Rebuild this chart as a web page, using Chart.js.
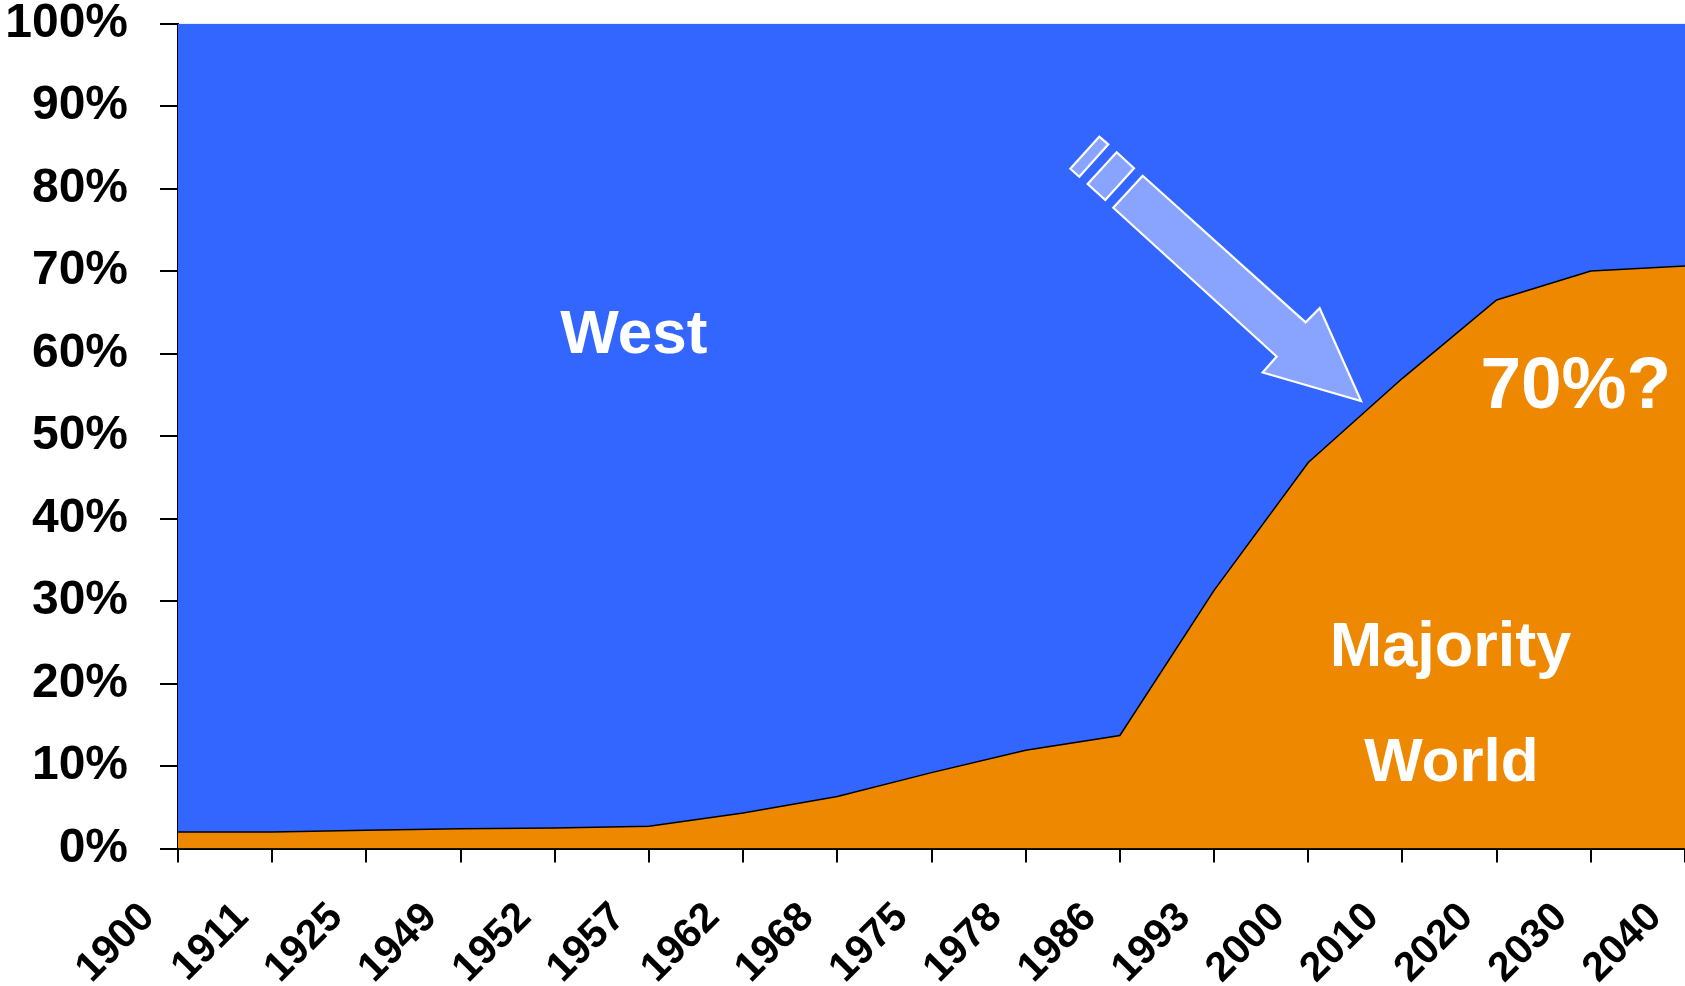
<!DOCTYPE html>
<html>
<head>
<meta charset="utf-8">
<script src="https://cdn.jsdelivr.net/npm/chart.js@4.4.1/dist/chart.umd.min.js"></script>
<style>
  html, body { margin: 0; padding: 0; background: #ffffff; }
  #wrap { position: relative; width: 1685px; height: 986px; }
</style>
</head>
<body>
<div id="wrap"><canvas id="c"></canvas></div>
<script>
// ---- Data ----
const years = ["1900","1911","1925","1949","1952","1957","1962","1968","1975","1978","1986","1993","2000","2010","2020","2030","2040"];
const majorityWorldShare = [2.0, 2.0, 2.2, 2.4, 2.5, 2.7, 4.3, 6.3, 9.2, 11.9, 13.7, 31.3, 46.8, 57.0, 66.5, 70.0, 70.6];
const westShare          = [98.0, 98.0, 97.8, 97.6, 97.5, 97.3, 95.7, 93.7, 90.8, 88.1, 86.3, 68.7, 53.2, 43.0, 33.5, 30.0, 29.4];
const yTickValues = [0, 10, 20, 30, 40, 50, 60, 70, 80, 90, 100];

// Annotation anchors in data units (category index, percent)
const textNotes = [
  { text: "West",     x: 4.84,  y: 60.1, size: 62 },
  { text: "70%?",     x: 14.84, y: 53.4, size: 73 },
  { text: "Majority", x: 13.51, y: 22.1, size: 63 },
  { text: "World",    x: 13.52, y: 8.2,  size: 62 }
];
const arrowBody = [[10.242,81.56],[11.972,63.78],[12.121,65.50],[12.561,54.25],[11.516,57.70],[11.665,59.64],[9.930,77.68]];
const arrowDash1 = [[9.781,86.29],[9.877,85.37],[9.569,81.44],[9.474,82.41]];
const arrowDash2 = [[9.966,84.40],[10.150,82.46],[9.845,78.62],[9.658,80.56]];

const FONT = "'Liberation Sans', Arial, sans-serif";

const notesPlugin = {
  id: 'notes',
  afterDatasetsDraw(chart) {
    const ctx = chart.ctx;
    const xs = chart.scales.x, ys = chart.scales.y;
    const px = p => [xs.getPixelForValue(p[0]), ys.getPixelForValue(p[1])];
    ctx.save();
    [arrowBody, arrowDash1, arrowDash2].forEach(poly => {
      ctx.beginPath();
      poly.forEach((p, i) => {
        const [X, Y] = px(p);
        if (i === 0) ctx.moveTo(X, Y); else ctx.lineTo(X, Y);
      });
      ctx.closePath();
      ctx.fillStyle = '#88A4FF';
      ctx.fill();
      ctx.lineWidth = 2.2;
      ctx.strokeStyle = '#ffffff';
      ctx.lineJoin = 'miter';
      ctx.stroke();
    });
    ctx.fillStyle = '#ffffff';
    ctx.textAlign = 'center';
    ctx.textBaseline = 'alphabetic';
    textNotes.forEach(n => {
      ctx.font = 'bold ' + n.size + 'px ' + FONT;
      const [X, Y] = px([n.x, n.y]);
      ctx.fillText(n.text, X, Y);
    });
    ctx.restore();
  }
};

new Chart(document.getElementById('c'), {
  type: 'line',
  data: {
    labels: years,
    datasets: [
      {
        label: 'Majority World',
        data: majorityWorldShare,
        fill: 'origin',
        backgroundColor: '#EE8800',
        borderColor: '#000000',
        borderWidth: 1.5,
        pointRadius: 0,
        tension: 0
      },
      {
        label: 'West',
        data: westShare,
        fill: '-1',
        backgroundColor: '#3366FF',
        borderColor: '#3366FF',
        borderWidth: 0,
        pointRadius: 0,
        tension: 0
      }
    ]
  },
  options: {
    responsive: true,
    maintainAspectRatio: false,
    animation: false,
    layout: { padding: { top: 23.6, right: 0, left: 0, bottom: 0 } },
    plugins: {
      legend: { display: false },
      tooltip: { enabled: false }
    },
    scales: {
      x: {
        type: 'category',
        offset: false,
        grid: { display: true, drawOnChartArea: false, drawTicks: true, tickLength: 14, color: '#000000', lineWidth: 2 },
        border: { display: true, color: '#000000', width: 2 },
        ticks: {
          autoSkip: false,
          maxRotation: 45,
          minRotation: 45,
          padding: 34,
          labelOffset: -30,
          color: '#000000',
          font: { family: FONT, size: 41, weight: 'bold', lineHeight: 1 }
        },
        afterFit(scale) { scale.height = 986 - 848.5; scale.paddingLeft = 0; scale.paddingRight = 0; }
      },
      y: {
        stacked: true,
        min: 0,
        max: 100,
        grid: { display: true, drawOnChartArea: false, drawTicks: true, tickLength: 18, color: '#000000', lineWidth: 2 },
        border: { display: true, color: '#000000', width: 2 },
        afterBuildTicks(scale) { scale.ticks = yTickValues.map(v => ({ value: v })); },
        ticks: {
          padding: 32,
          color: '#000000',
          font: { family: FONT, size: 48, weight: 'bold', lineHeight: 1 },
          callback: v => v + '%'
        },
        afterFit(scale) { scale.width = 178; scale.paddingTop = 0; scale.paddingBottom = 0; }
      }
    }
  },
  plugins: [notesPlugin]
});
</script>
</body>
</html>
